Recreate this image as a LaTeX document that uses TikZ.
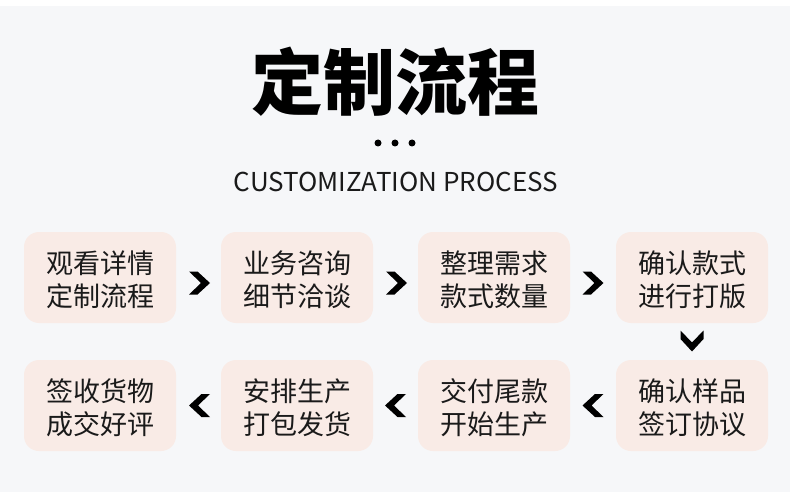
\documentclass[tikz,border=0pt]{standalone}
\usepackage{fontspec}
\setmainfont{Noto Sans CJK SC}
\newfontfamily\cjk{Noto Sans CJK SC}
\usetikzlibrary{calc}
\definecolor{bgc}{HTML}{F6F7F9}
\definecolor{boxc}{HTML}{F9EBE6}
\definecolor{txtc}{HTML}{1A1A1A}
\tikzset{
  box/.style={fill=boxc, draw=none, rounded corners=15pt, minimum width=152pt, minimum height=91pt, inner sep=0pt},
  boxtxt/.style={font=\cjk\fontsize{27}{33}\selectfont, text=txtc, inner sep=0pt, anchor=base},
  chev/.pic={\fill[black] (-10.5,-11.5) -- (-2,-11.5) -- (10.5,0) -- (-2,11.5) -- (-10.5,11.5) -- (1.5,0) -- cycle;}
}
\newcommand\procbox[4]{%
  \node[box] (#1) at (#2) {};
  \node[boxtxt] (#1a) at ($(#1.center)+(0,-4.5)$) {#3};
  \node[boxtxt] (#1b) at ($(#1.center)+(0,28.5)$) {#4};
}
\begin{document}
\begin{tikzpicture}[x=1pt,y=-1pt]
\useasboundingbox (0,0) rectangle (790,492);
\fill[white] (0,0) rectangle (790,492);
\fill[bgc] (0,6) rectangle (790,492);
\node[font=\cjk\bfseries\fontsize{72}{80}\selectfont, inner sep=0pt, anchor=base] (title) at (395,110) {定制流程};
\foreach \i/\x in {d1/378,d2/395,d3/412}{\fill[black] (\x,143) circle (3.5pt) coordinate (\i);}
\node[font=\cjk\fontsize{26}{30}\selectfont, inner sep=0pt, anchor=base, text=txtc] (sub) at (396,191) {CUSTOMIZATION PROCESS};
\procbox{b1}{100,277.5}{观看详情}{定制流程}
\procbox{b2}{297,277.5}{业务咨询}{细节洽谈}
\procbox{b3}{494,277.5}{整理需求}{款式数量}
\procbox{b4}{692,277.5}{确认款式}{进行打版}
\procbox{b8}{100,405.5}{签收货物}{成交好评}
\procbox{b7}{297,405.5}{安排生产}{打包发货}
\procbox{b6}{494,405.5}{交付尾款}{开始生产}
\procbox{b5}{692,405.5}{确认样品}{签订协议}
\pic at ($(b1.east)!0.5!(b2.west)+(1,5.5)$) {chev};
\pic at ($(b2.east)!0.5!(b3.west)+(1,5.5)$) {chev};
\pic at ($(b3.east)!0.5!(b4.west)+(0,5.5)$) {chev};
\pic[rotate=-90] at ($(b4.south)!0.5!(b5.north)+(0,-0.5)$) {chev};
\pic[rotate=180] at ($(b5.west)!0.5!(b6.east)+(0,0)$) {chev};
\pic[rotate=180] at ($(b6.west)!0.5!(b7.east)+(0,0)$) {chev};
\pic[rotate=180] at ($(b7.west)!0.5!(b8.east)+(1,0)$) {chev};
\end{tikzpicture}
\end{document}
